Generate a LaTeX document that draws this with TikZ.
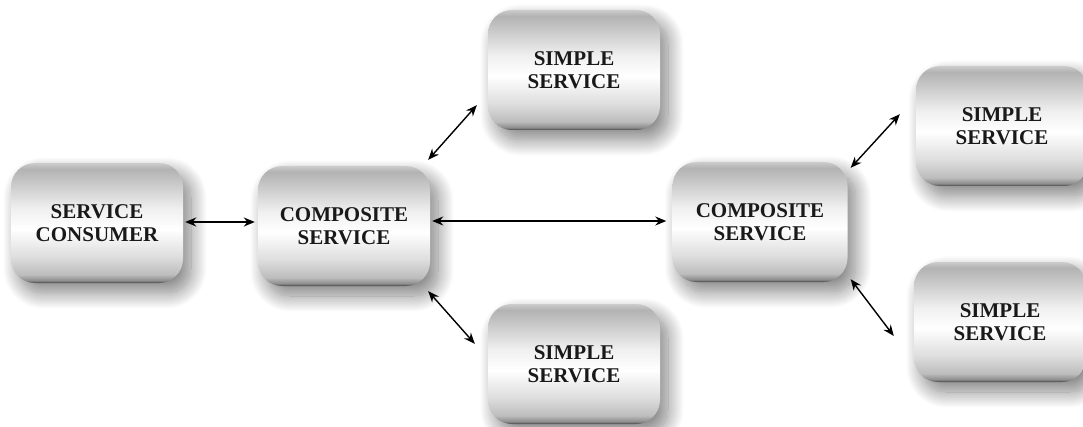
\documentclass[tikz,border=0pt]{standalone}
\usepackage{fontspec}
\setmainfont{Liberation Serif}
\usetikzlibrary{arrows.meta,calc,shadows.blur}
\pgfdeclareverticalshading{metalbox}{100bp}{%
  color(0bp)=(black!75); color(25bp)=(black!75); color(26bp)=(black!45);
  color(28.5bp)=(black!26); color(36bp)=(black!13); color(47.5bp)=(white);
  color(56bp)=(black!6); color(72.5bp)=(black!30); color(75bp)=(black!20);
  color(100bp)=(black!20)}

\begin{document}
\begin{tikzpicture}[x=1pt, y=1pt, >={Stealth[length=11pt, width=9pt]},
    svcbox/.style={rounded corners=24pt, shading=metalbox, minimum width=172pt,
      minimum height=120pt, align=center, text=black!90,
      font=\fontsize{21}{23}\selectfont\bfseries,
      blur shadow={shadow xshift=8pt, shadow yshift=-10pt,
        shadow blur radius=16pt, shadow blur steps=24, shadow opacity=50}},
    link/.style={<->, line width=1.4pt}]
    \path[use as bounding box] (0,0) rectangle (1083,426);
    \node[svcbox] (consumer) at (97,203) {SERVICE\\CONSUMER};
    \node[svcbox] (comp1) at (344,200) {COMPOSITE\\SERVICE};
    \node[svcbox] (simpleA) at (574,356) {SIMPLE\\SERVICE};
    \node[svcbox] (simpleB) at (574,62) {SIMPLE\\SERVICE};
    \node[svcbox, minimum width=175pt] (comp2) at (760,204) {COMPOSITE\\SERVICE};
    \node[svcbox] (simpleC) at (1002,300) {SIMPLE\\SERVICE};
    \node[svcbox] (simpleD) at (1000,104) {SIMPLE\\SERVICE};

    \draw[link, line width=2.3pt] ($(consumer.east)+(2,1)$) -- ($(comp1.west)+(-3,4)$);
    \draw[link] ($(comp1.east)+(2,5)$) -- ($(comp2.west)+(-6,1)$);
    \draw[link] ($(comp1.north east)+(-2,6)$) -- ($(simpleA.south west)+(-11,25)$);
    \draw[link] ($(comp1.south east)+(-2,-5)$) -- ($(simpleB.north west)+(-13,-40)$);
    \draw[link] ($(comp2.north east)+(3,-6)$) -- ($(simpleC.south west)+(-16,72)$);
    \draw[link] ($(comp2.south east)+(3,3)$) -- ($(simpleD.west)+(-20,-14)$);
\end{tikzpicture}
\end{document}
